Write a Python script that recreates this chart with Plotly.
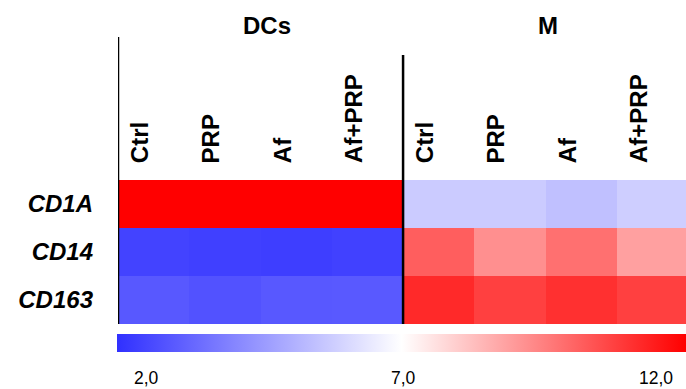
import plotly.graph_objects as go

# ---- data ----
row_labels = ["CD1A", "CD14", "CD163"]
col_labels = ["Ctrl", "PRP", "Af", "Af+PRP", "Ctrl", "PRP", "Af", "Af+PRP"]
groups = ["DCs", "M"]
cd1a = [12.0, 12.0, 12.0, 12.0, 5.74, 5.74, 5.48, 5.82]
cd14 = [2.46, 2.39, 2.34, 2.41, 10.16, 9.20, 9.80, 8.86]
cd163 = [2.97, 2.82, 2.97, 3.00, 11.20, 10.75, 11.06, 10.75]
scale_ticks = [2.0, 7.0, 12.0]
scale_tick_text = ["2,0", "7,0", "12,0"]

FONT = "Arial, Liberation Sans, sans-serif"
W, H = 686, 389
ML, MR, MT, MB = 118, 0, 180, 65
PW, PH = W - ML - MR, H - MT - MB

z = [cd1a, cd14, cd163]
xs = list(range(len(col_labels)))

fig = go.Figure()
fig.add_trace(go.Heatmap(
    z=z, x=xs, y=row_labels,
    zmin=2, zmax=12,
    colorscale=[[0, "rgb(48,48,255)"], [0.5, "rgb(255,255,255)"], [1, "rgb(255,0,0)"]],
    showscale=True,
    colorbar=dict(
        orientation="h", lenmode="pixels", len=569, thickness=18,
        xanchor="left", x=(117 - ML) / PW, yanchor="top", y=(324 - 334) / PH,
        xpad=0, ypad=0, outlinewidth=0, showticklabels=False, ticks="",
    ),
    hoverinfo="skip",
))

annotations = []
# column labels
for i, lab in enumerate(col_labels):
    annotations.append(dict(
        x=xs[i], xref="x", y=1, yref="paper", yanchor="bottom", xanchor="center",
        yshift=15, xshift=-14, text="<b>%s</b>" % lab, textangle=-90, showarrow=False,
        font=dict(family=FONT, size=24, color="black"),
    ))
# group titles
for g, name in enumerate(groups):
    annotations.append(dict(
        x=g * 4 + 1.5, xref="x", y=(324 - 26) / PH, yref="paper", yanchor="middle",
        xanchor="center", xshift=6 if g == 0 else 2, text="<b>%s</b>" % name,
        showarrow=False, font=dict(family=FONT, size=24, color="black"),
    ))
# colour scale tick labels
tick_px = [146.5, 403, 656]
for v, t, px in zip(scale_ticks, scale_tick_text, tick_px):
    annotations.append(dict(
        x=(px - ML) / PW, xref="paper", y=(324 - 378) / PH, yref="paper",
        xanchor="center", yanchor="middle", text=t, showarrow=False,
        font=dict(family=FONT, size=17.5, color="black"),
    ))

shapes = [
    dict(type="line", xref="x", yref="paper", x0=-0.5, x1=-0.5,
         y0=0, y1=(324 - 37) / PH, line=dict(color="black", width=2.5)),
    dict(type="line", xref="x", yref="paper", x0=3.5, x1=3.5,
         y0=0, y1=(324 - 55) / PH, line=dict(color="black", width=2.5)),
]

fig.update_layout(
    width=W, height=H,
    margin=dict(l=ML, r=MR, t=MT, b=MB, pad=0),
    paper_bgcolor="white", plot_bgcolor="white",
    annotations=annotations, shapes=shapes,
    xaxis=dict(range=[-0.5, 7.47], showticklabels=False, showgrid=False,
               zeroline=False, ticks=""),
    yaxis=dict(autorange="reversed", showgrid=False, zeroline=False, ticks="",
               tickmode="array", tickvals=row_labels,
               ticktext=["<b><i>%s</i></b>" % r for r in row_labels],
               ticklabelstandoff=24,
               tickfont=dict(family=FONT, size=24, color="black")),
    showlegend=False,
)

fig.write_html("out.html", config={"displayModeBar": False},
               post_script="document.body.style.margin='0px';document.body.style.overflow='hidden';")
